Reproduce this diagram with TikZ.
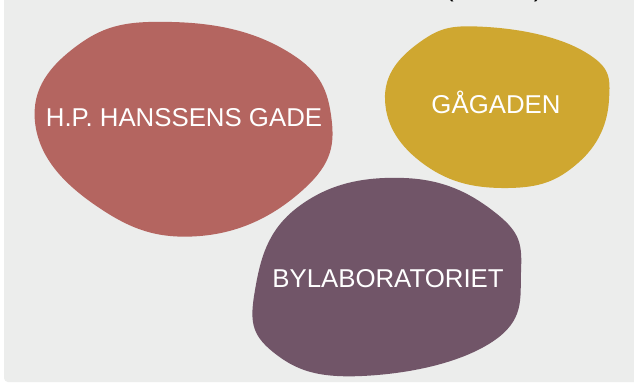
\documentclass[tikz,border=0pt]{standalone}
\usepackage{fontspec}
\setmainfont{Liberation Sans}
\definecolor{bgc}{RGB}{236,237,236}
\definecolor{redb}{RGB}{180,101,96}
\definecolor{yelb}{RGB}{207,167,48}
\definecolor{purb}{RGB}{113,85,104}
\tikzset{
  lbl/.style={text=white, font=\fontsize{25.8}{28}\selectfont, inner sep=0pt},
}
\begin{document}
\begin{tikzpicture}[x=1pt,y=-1pt]
\useasboundingbox (0,0) rectangle (634,386);
\fill[white] (0,0) rectangle (634,386);
\fill[bgc, rounded corners=4pt] (4,-10) -- (4,382) -- (640,382) -- (640,-10) -- cycle;
\node[anchor=base west, inner sep=0pt, font=\fontsize{26}{28}\selectfont] (paren) at (445,-3.5) {(\hspace{80pt})};
% red blob
\fill[redb] plot[smooth cycle, tension=0.75] coordinates {
 (172,22) (285,50) (331,115) (305,188) (200,236) (95,205) (35,122) (78,45)};
% yellow blob
\fill[yelb] plot[smooth cycle, tension=0.75] coordinates {
 (487,27) (585,52) (609,100) (578,163) (508,188) (425,165) (385,100) (420,42)};
% purple blob
\fill[purb] plot[smooth cycle, tension=0.75] coordinates {
 (404,178) (497,214) (521,272) (492,342) (362,376) (273,352) (255,290) (298,207)};
\node[lbl] (hp) at (184,118) {H.P. HANSSENS GADE};
\node[lbl] (ga) at (496,102) {GÅGADEN};
\node[lbl] (by) at (388,279) {BYLABORATORIET};
\end{tikzpicture}
\end{document}
